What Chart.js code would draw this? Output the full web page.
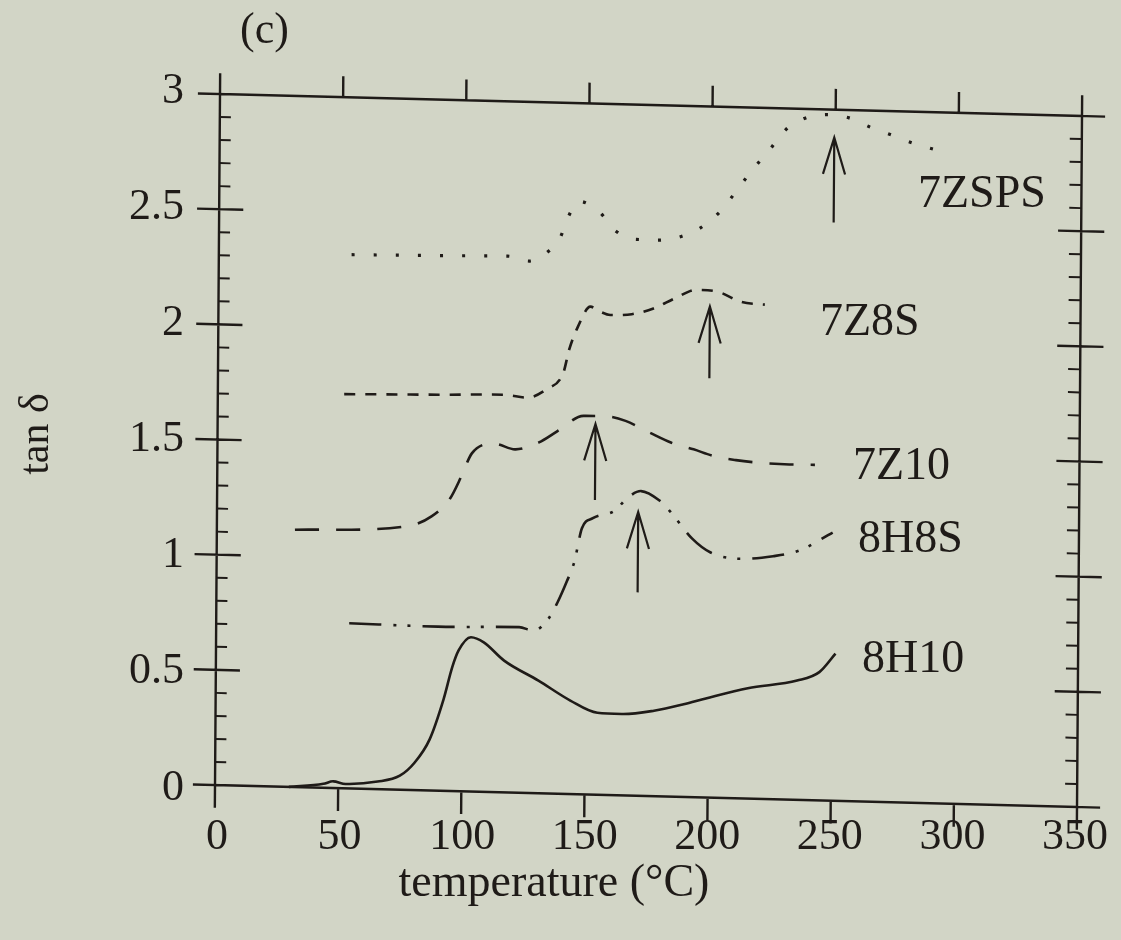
<!DOCTYPE html>
<html>
<head>
<meta charset="utf-8">
<script src="https://cdn.jsdelivr.net/npm/chart.js@4.4.1/dist/chart.umd.min.js"></script>
<style>
  html, body { margin: 0; padding: 0; background: #d2d5c6; }
  canvas { display: block; }
</style>
</head>
<body>
<canvas id="chart" width="1121" height="940"></canvas>
<script>
// ---- data: temperature (°C) and tan δ for each sample ----
const seriesNames = ['8H10', '8H8S', '7Z10', '7Z8S', '7ZSPS'];

const temp8H10 = [30, 44, 48, 53, 66, 75, 81, 87, 92.5, 96, 98.5, 103.5, 108.7, 117, 131, 144, 155, 165, 178, 190, 199, 216, 236, 245, 251.5];
const tan8H10  = [0.0, 0.017, 0.029, 0.019, 0.033, 0.061, 0.12, 0.222, 0.396, 0.539, 0.611, 0.67, 0.649, 0.572, 0.489, 0.406, 0.356, 0.353, 0.371, 0.402, 0.43, 0.479, 0.518, 0.557, 0.639];

const temp8H8S = [54, 90, 123, 128.7, 134.7, 138.4, 142.2, 145.2, 148.2, 152.6, 161.6, 166.1, 172.1, 179.6, 184.1, 193, 200.5, 212.5, 225.9, 236.4, 250];
const tan8H8S  = [0.717, 0.712, 0.719, 0.705, 0.756, 0.828, 0.922, 1.008, 1.155, 1.2, 1.236, 1.287, 1.323, 1.284, 1.236, 1.122, 1.064, 1.04, 1.055, 1.082, 1.164];

const temp7Z10 = [31.7, 77.4, 87.1, 94.6, 99.1, 103.3, 112.6, 120.8, 130.5, 138, 148.5, 157.4, 165.6, 175.3, 184.3, 193.3, 201.5, 210.5, 220.2, 232.2, 242.6];
const tan7Z10  = [1.117, 1.145, 1.19, 1.27, 1.367, 1.468, 1.512, 1.49, 1.523, 1.574, 1.643, 1.644, 1.626, 1.578, 1.536, 1.51, 1.483, 1.468, 1.459, 1.455, 1.456];

const temp7Z8S = [51.3, 89.7, 116.6, 125.4, 133.5, 140.2, 142.5, 146, 151, 155, 159.1, 167.8, 176.6, 185.4, 194.1, 202.9, 212.3, 221.8];
const tan7Z8S  = [1.711, 1.719, 1.726, 1.716, 1.755, 1.828, 1.929, 2.03, 2.118, 2.097, 2.084, 2.09, 2.117, 2.164, 2.203, 2.196, 2.155, 2.146];

const temp7ZSPS = [53.9, 90.3, 117.3, 126, 133.7, 138.4, 141.5, 146.2, 154.6, 161, 169.5, 177.6, 186, 195, 203.2, 209.5, 216, 223, 229.9, 237.6, 246.5, 255.4, 264.1, 272.5, 281.7, 290.7];
const tan7ZSPS  = [2.317, 2.323, 2.328, 2.309, 2.353, 2.411, 2.5, 2.574, 2.527, 2.45, 2.415, 2.414, 2.427, 2.469, 2.543, 2.63, 2.725, 2.815, 2.909, 2.96, 2.978, 2.966, 2.928, 2.897, 2.862, 2.837];

// peak markers: temperature, tail and tip of each arrow (order: 7Z10, 8H8S, 7Z8S, 7ZSPS)
const arrowTemp = [153.4, 171, 199.5, 249.5];
const arrowTail = [1.279, 0.883, 1.82, 2.51];
const arrowTip  = [1.609, 1.232, 2.132, 2.879];

// axis tick labels
const xTickValues = [0, 50, 100, 150, 200, 250, 300, 350];
const yTickValues = [0, 0.5, 1, 1.5, 2, 2.5, 3];

// ---- styling ----
const INK = '#1f1b18';
const FONT = "'Liberation Serif', 'Times New Roman', serif";

// the printed frame is slightly skewed: its corners on the page
const FRAME = { tl: [222, 92], tr: [1080, 118], bl: [213, 787], br: [1079, 805] };

// where each curve's name is printed (left edge, baseline)
const nameSpots = {
  '7ZSPS': [918, 207],
  '7Z8S':  [820, 335],
  '7Z10':  [853, 479],
  '8H8S':  [858, 552],
  '8H10':  [862, 672]
};

const lineStyles = {
  '8H10':  { dash: [] },
  '8H8S':  { dash: [32, 12, 3, 11, 3, 12] },
  '7Z10':  { dash: [24, 17] },
  '7Z8S':  { dash: [11, 10] },
  '7ZSPS': { dash: [3, 19], width: 3.2 }
};

function pairs(xs, ys) { return xs.map((x, i) => ({ x, y: ys[i] })); }

const seriesData = {
  '8H10': pairs(temp8H10, tan8H10),
  '8H8S': pairs(temp8H8S, tan8H8S),
  '7Z10': pairs(temp7Z10, tan7Z10),
  '7Z8S': pairs(temp7Z8S, tan7Z8S),
  '7ZSPS': pairs(temp7ZSPS, tan7ZSPS)
};

// affine map from the rectangular chart area onto the skewed frame
function frameTransform(area) {
  const tv = [(FRAME.tr[0] - FRAME.tl[0] + FRAME.br[0] - FRAME.bl[0]) / 2,
              (FRAME.tr[1] - FRAME.tl[1] + FRAME.br[1] - FRAME.bl[1]) / 2];
  const dv = [(FRAME.bl[0] - FRAME.tl[0] + FRAME.br[0] - FRAME.tr[0]) / 2,
              (FRAME.bl[1] - FRAME.tl[1] + FRAME.br[1] - FRAME.tr[1]) / 2];
  const cx = (FRAME.tl[0] + FRAME.tr[0] + FRAME.bl[0] + FRAME.br[0]) / 4;
  const cy = (FRAME.tl[1] + FRAME.tr[1] + FRAME.bl[1] + FRAME.br[1]) / 4;
  const w = area.right - area.left, h = area.bottom - area.top;
  const a = tv[0] / w, b = tv[1] / w, c = dv[0] / h, d = dv[1] / h;
  const ux = (area.left + area.right) / 2, vy = (area.top + area.bottom) / 2;
  return { a, b, c, d, e: cx - a * ux - c * vy, f: cy - b * ux - d * vy };
}

function seg(ctx, x1, y1, x2, y2) { ctx.moveTo(x1, y1); ctx.lineTo(x2, y2); }

function drawFrame(chart) {
  const { ctx, chartArea: { left, right, top, bottom }, scales: { x, y } } = chart;
  ctx.save();
  ctx.strokeStyle = INK;
  ctx.lineWidth = 2.4;
  ctx.beginPath();
  ctx.rect(left, top, right - left, bottom - top);
  // temperature ticks point outward, top and bottom
  xTickValues.forEach(v => {
    const px = x.getPixelForValue(v);
    seg(ctx, px, bottom, px, bottom + 23);
    seg(ctx, px, top, px, top - 21);
  });
  // tan δ ticks: majors cross the frame, minors point inward
  yTickValues.forEach(v => {
    const py = y.getPixelForValue(v);
    seg(ctx, left - 22, py, left + 24, py);
    seg(ctx, right - 23, py, right + 23, py);
  });
  ctx.stroke();
  ctx.lineWidth = 2;
  ctx.beginPath();
  for (let i = 1; i < 30; i++) {
    if (i % 5 === 0) continue;
    const py = y.getPixelForValue(i / 10);
    seg(ctx, left, py, left + 11, py);
    seg(ctx, right - 12, py, right, py);
  }
  ctx.stroke();
  ctx.restore();
}

function drawArrows(chart) {
  const { ctx, scales: { x, y } } = chart;
  ctx.save();
  ctx.strokeStyle = INK;
  ctx.lineWidth = 2.2;
  ctx.lineJoin = 'miter';
  arrowTemp.forEach((t, i) => {
    const px = x.getPixelForValue(t);
    const pTail = y.getPixelForValue(arrowTail[i]);
    const pTip = y.getPixelForValue(arrowTip[i]);
    ctx.beginPath();
    seg(ctx, px, pTail, px, pTip);
    ctx.moveTo(px - 11, pTip + 37);
    ctx.lineTo(px, pTip);
    ctx.lineTo(px + 11, pTip + 37);
    ctx.stroke();
  });
  ctx.restore();
}

function drawTexts(chart) {
  const ctx = chart.ctx;
  ctx.save();
  ctx.fillStyle = INK;
  ctx.textBaseline = 'alphabetic';
  ctx.textAlign = 'left';
  ctx.font = `46px ${FONT}`;
  chart.data.datasets.forEach(ds => {
    const spot = nameSpots[ds.label];
    if (spot) ctx.fillText(ds.label, spot[0], spot[1]);
  });
  ctx.font = `44px ${FONT}`;
  ctx.fillText('(c)', 240, 43);
  ctx.textAlign = 'center';
  ctx.font = `46px ${FONT}`;
  ctx.fillText('temperature (°C)', 554, 896);
  ctx.translate(48, 434);
  ctx.rotate(-Math.PI / 2);
  ctx.font = `42px ${FONT}`;
  ctx.fillText('tan δ', 0, 0);
  ctx.restore();
}

const skewedPlot = {
  id: 'skewedPlot',
  beforeDatasetsDraw(chart) {
    const m = frameTransform(chart.chartArea);
    chart.ctx.save();
    chart.ctx.transform(m.a, m.b, m.c, m.d, m.e, m.f);
    drawFrame(chart);
  },
  afterDatasetsDraw(chart) {
    drawArrows(chart);
    chart.ctx.restore();
    drawTexts(chart);
  }
};

const datasets = seriesNames.map(name => ({
  label: name,
  data: seriesData[name],
  borderColor: INK,
  borderWidth: (lineStyles[name].width || 2.6),
  borderDash: lineStyles[name].dash,
  borderCapStyle: 'butt',
  pointRadius: 0,
  fill: false,
  tension: 0.4,
  cubicInterpolationMode: 'monotone',
  clip: false
}));

new Chart(document.getElementById('chart'), {
  type: 'line',
  data: { datasets },
  plugins: [skewedPlot],
  options: {
    responsive: false,
    devicePixelRatio: 1,
    animation: false,
    events: [],
    layout: { padding: { top: 91, right: 43, left: 0, bottom: 0 } },
    plugins: { legend: { display: false }, tooltip: { enabled: false }, title: { display: false } },
    scales: {
      x: {
        type: 'linear',
        min: 0, max: 350,
        afterBuildTicks: s => { s.ticks = xTickValues.map(v => ({ value: v })); },
        afterFit: s => { s.height = 152; },
        grid: { display: true, drawOnChartArea: false, drawTicks: true, tickLength: 10, color: 'rgba(0,0,0,0)' },
        border: { display: false },
        ticks: { color: INK, font: { family: FONT, size: 44 }, padding: 13, maxRotation: 0, autoSkip: false,
                 callback: v => String(v) }
      },
      y: {
        type: 'linear',
        min: 0, max: 3,
        afterBuildTicks: s => { s.ticks = yTickValues.map(v => ({ value: v })); },
        afterFit: s => { s.width = 217; },
        grid: { display: true, drawOnChartArea: false, drawTicks: true, tickLength: 22, color: 'rgba(0,0,0,0)' },
        border: { display: false },
        ticks: { color: INK, font: { family: FONT, size: 44 }, padding: 11, autoSkip: false,
                 callback: v => String(v) }
      }
    }
  }
});
</script>
</body>
</html>
